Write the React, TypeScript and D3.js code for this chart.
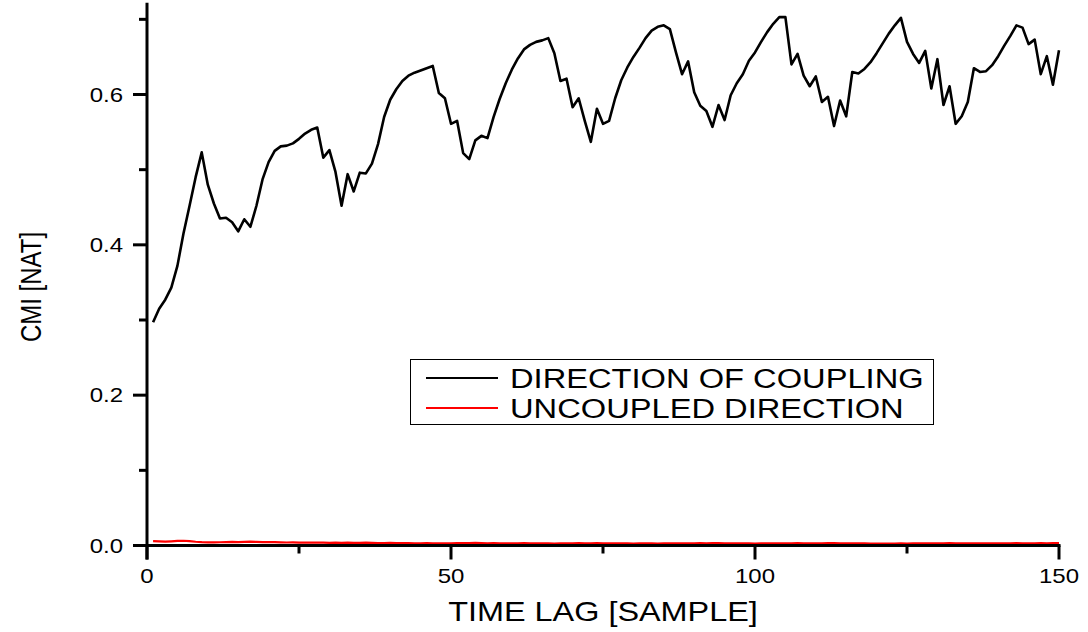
import React from "react";
import * as d3 from "d3";

// CMI in the direction of coupling, lag 1..150
const coupled: number[] = [
  0.297, 0.315, 0.327, 0.343, 0.372, 0.415, 0.452, 0.490, 0.523, 0.480,
  0.455, 0.435, 0.436, 0.430, 0.418, 0.434, 0.424, 0.452, 0.487, 0.510,
  0.525, 0.531, 0.532, 0.535, 0.541, 0.548, 0.553, 0.556, 0.516, 0.526,
  0.497, 0.452, 0.494, 0.471, 0.496, 0.495, 0.508, 0.534, 0.570, 0.593,
  0.607, 0.618, 0.625, 0.629, 0.632, 0.635, 0.638, 0.602, 0.595, 0.561,
  0.565, 0.522, 0.514, 0.539, 0.545, 0.542, 0.570, 0.594, 0.615, 0.633,
  0.648, 0.660, 0.666, 0.670, 0.672, 0.675, 0.655, 0.618, 0.621, 0.583,
  0.595, 0.565, 0.537, 0.581, 0.561, 0.565, 0.595, 0.619, 0.636, 0.650,
  0.662, 0.675, 0.685, 0.690, 0.692, 0.687, 0.656, 0.627, 0.644, 0.603,
  0.585, 0.578, 0.557, 0.586, 0.566, 0.599, 0.615, 0.627, 0.645, 0.656,
  0.670, 0.683, 0.694, 0.703, 0.703, 0.640, 0.654, 0.625, 0.611, 0.624,
  0.590, 0.597, 0.558, 0.592, 0.571, 0.630, 0.628, 0.634, 0.643, 0.655,
  0.668, 0.681, 0.692, 0.702, 0.670, 0.654, 0.642, 0.658, 0.608, 0.647,
  0.586, 0.611, 0.561, 0.571, 0.590, 0.635, 0.630, 0.631, 0.639, 0.651,
  0.665, 0.678, 0.692, 0.689, 0.667, 0.673, 0.627, 0.651, 0.613, 0.659,
];

// CMI in the uncoupled direction, lag 1..150
const uncoupled: number[] = [
  0.0058, 0.0055, 0.0052, 0.0056, 0.0061, 0.0063, 0.0058, 0.0050, 0.0044, 0.0042,
  0.0041, 0.0043, 0.0045, 0.0047, 0.0045, 0.0049, 0.0051, 0.0048, 0.0046, 0.0045,
  0.0044, 0.0042, 0.0040, 0.0041, 0.0039, 0.0040, 0.0038, 0.0037, 0.0038, 0.0036,
  0.0037, 0.0035, 0.0038, 0.0036, 0.0034, 0.0037, 0.0035, 0.0033, 0.0032, 0.0034,
  0.0033, 0.0031, 0.0032, 0.0030, 0.0029, 0.0031, 0.0028, 0.0027, 0.0029, 0.0030,
  0.0032, 0.0031, 0.0033, 0.0034, 0.0032, 0.0030, 0.0031, 0.0029, 0.0030, 0.0028,
  0.0029, 0.0031, 0.0030, 0.0028, 0.0027, 0.0029, 0.0026, 0.0028, 0.0030, 0.0029,
  0.0031, 0.0029, 0.0030, 0.0032, 0.0030, 0.0028, 0.0029, 0.0027, 0.0028, 0.0026,
  0.0027, 0.0029, 0.0028, 0.0026, 0.0027, 0.0029, 0.0030, 0.0028, 0.0027, 0.0029,
  0.0031, 0.0030, 0.0033, 0.0031, 0.0029, 0.0028, 0.0030, 0.0027, 0.0028, 0.0026,
  0.0027, 0.0029, 0.0028, 0.0030, 0.0027, 0.0029, 0.0031, 0.0029, 0.0030, 0.0028,
  0.0030, 0.0032, 0.0031, 0.0029, 0.0030, 0.0028, 0.0027, 0.0029, 0.0026, 0.0025,
  0.0024, 0.0026, 0.0025, 0.0027, 0.0026, 0.0028, 0.0027, 0.0029, 0.0028, 0.0030,
  0.0029, 0.0031, 0.0028, 0.0027, 0.0029, 0.0028, 0.0030, 0.0029, 0.0027, 0.0028,
  0.0030, 0.0029, 0.0031, 0.0030, 0.0028, 0.0029, 0.0031, 0.0030, 0.0032, 0.0033,
];

const xMajorTicks = [0, 50, 100, 150];
const xMinorTicks = [25, 75, 125];
const yMajorTicks = [0, 0.2, 0.4, 0.6];
const yMinorTicks = [0.1, 0.3, 0.5, 0.7];

const seriesNames = ["DIRECTION OF COUPLING", "UNCOUPLED DIRECTION"];
const seriesColors = ["#000000", "#ff0000"];

const W = 1088;
const H = 632;
const FONT = "'Liberation Sans', Arial, sans-serif";
const SX = 1.2; // horizontal stretch of all lettering

const x = d3.scaleLinear().domain([0, 150]).range([147, 1059]);
const y = d3.scaleLinear().domain([0, 0.6]).range([545.5, 94.5]);
const yTop = 0.722;

export default function App() {
  const line = d3
    .line<number>()
    .x((_, i) => x(i + 1))
    .y((d) => y(d));

  const fmtY = d3.format(".1f");

  return (
    <svg
      width={W}
      height={H}
      viewBox={`0 0 ${W} ${H}`}
      style={{ position: "absolute", left: 0, top: 0, background: "#fff" }}
      fontFamily={FONT}
    >
      <rect x={0} y={0} width={W} height={H} fill="#fff" />

      {/* data */}
      <path d={line(uncoupled) || ""} fill="none" stroke={seriesColors[1]} strokeWidth={2.2} strokeLinejoin="round" />
      <path d={line(coupled) || ""} fill="none" stroke={seriesColors[0]} strokeWidth={2.6} strokeLinejoin="round" />

      {/* axes */}
      <g stroke="#000" strokeWidth={3} strokeLinecap="butt">
        <line x1={x(0)} x2={x(0)} y1={y(yTop)} y2={y(0) + 14} />
        <line x1={x(0) - 1.5} x2={x(150) + 1.5} y1={y(0)} y2={y(0)} />
        {yMajorTicks.map((t) => (
          <line key={"ym" + t} x1={x(0) - 14} x2={x(0)} y1={y(t)} y2={y(t)} />
        ))}
        {yMinorTicks.map((t) => (
          <line key={"yn" + t} x1={x(0) - 8} x2={x(0)} y1={y(t)} y2={y(t)} />
        ))}
        {xMajorTicks.map((t) => (
          <line key={"xm" + t} x1={x(t)} x2={x(t)} y1={y(0)} y2={y(0) + 14} />
        ))}
        {xMinorTicks.map((t) => (
          <line key={"xn" + t} x1={x(t)} x2={x(t)} y1={y(0)} y2={y(0) + 8} />
        ))}
      </g>

      {/* tick labels */}
      {yMajorTicks.map((t) => (
        <text
          key={"yl" + t}
          transform={`translate(123,${y(t) + 7}) scale(${SX},1)`}
          textAnchor="end"
          fontSize={20}
          fill="#000"
        >
          {fmtY(t)}
        </text>
      ))}
      {xMajorTicks.map((t) => (
        <text
          key={"xl" + t}
          transform={`translate(${x(t)},583) scale(${SX},1)`}
          textAnchor="middle"
          fontSize={20}
          fill="#000"
        >
          {t}
        </text>
      ))}

      {/* axis titles */}
      <text
        transform={`translate(603,621) scale(${SX},1)`}
        textAnchor="middle"
        fontSize={27}
        fill="#000"
      >
        TIME LAG [SAMPLE]
      </text>
      <text
        transform={`translate(41,287) scale(1.25,1) rotate(-90)`}
        textAnchor="middle"
        fontSize={24}
        fill="#000"
      >
        CMI [NAT]
      </text>

      {/* legend */}
      <rect x={410.5} y={359.5} width={523} height={65} fill="#fff" stroke="#000" strokeWidth={1} />
      {seriesNames.map((name, i) => (
        <g key={name}>
          <line x1={426} x2={498} y1={378 + i * 30} y2={378 + i * 30} stroke={seriesColors[i]} strokeWidth={2} />
          <text
            transform={`translate(510,${388 + i * 30}) scale(1.21,1)`}
            fontSize={27}
            fill="#000"
          >
            {name}
          </text>
        </g>
      ))}
    </svg>
  );
}
